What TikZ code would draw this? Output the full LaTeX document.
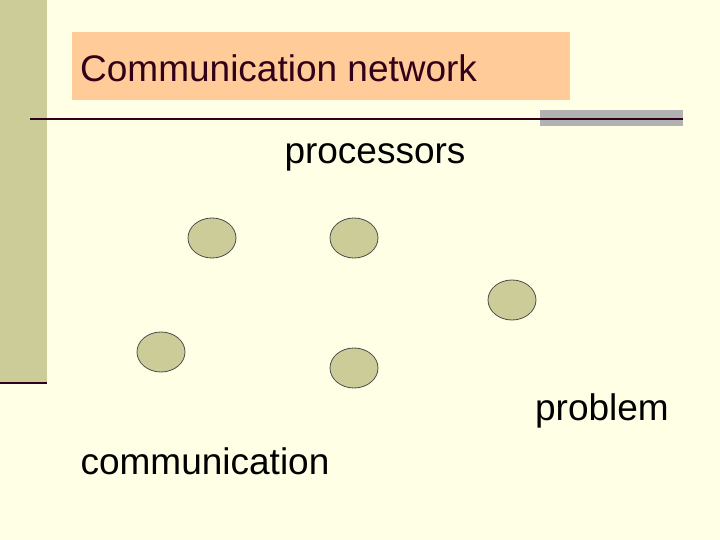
\documentclass[tikz,border=0pt]{standalone}
\usepackage{fontspec}
\setmainfont{Liberation Sans}
\begin{document}
\begin{tikzpicture}[x=1pt,y=-1pt,
  txt/.style={font=\fontsize{37}{40}\selectfont, inner sep=0pt, text=black},
  proc/.style={draw=black!70, fill=procfill, line width=0.8pt}]
\definecolor{bg}{HTML}{FFFFE5}
\definecolor{procfill}{HTML}{CCCC99}
\definecolor{barc}{HTML}{CCCC99}
\definecolor{orng}{HTML}{FFCC99}
\definecolor{maroon}{HTML}{330019}
\definecolor{grayb}{HTML}{B2B2B2}
\useasboundingbox (0,0) rectangle (720,540);
\fill[bg] (0,0) rectangle (720,540);
\fill[barc] (0,0) rectangle (47,383);
\draw[maroon, line width=2.5pt] (0,383) -- (47,383);
\fill[orng] (72,32) rectangle (570,100);
\node[txt, text=maroon, anchor=west] (title) at (80,68) {Communication network};
\fill[grayb] (540,110) rectangle (683,126);
\draw[maroon, line width=1.5pt] (30,119) -- (683,119);
\node[txt, anchor=center] (processors) at (375,157) {processors};
\node[txt, anchor=center] (communication) at (205,461) {communication};
\node[txt, anchor=center] (problem) at (602,411) {problem};
\draw[proc] (212,238) ellipse (24 and 20);
\draw[proc] (354,238) ellipse (24 and 20);
\draw[proc] (512,300) ellipse (24 and 20);
\draw[proc] (161,352) ellipse (24 and 20);
\draw[proc] (354,368) ellipse (24 and 20);
\end{tikzpicture}
\end{document}
